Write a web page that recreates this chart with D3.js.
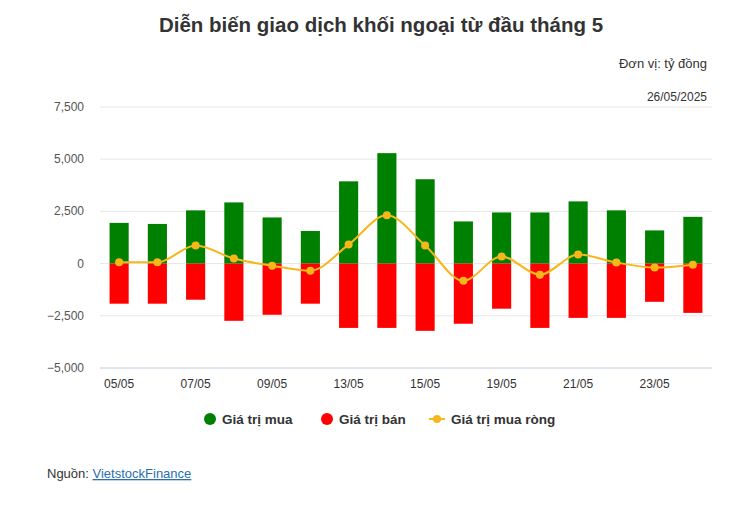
<!DOCTYPE html>
<html><head><meta charset="utf-8">
<script src="https://cdn.jsdelivr.net/npm/d3@7"></script>
<style>body{margin:0;background:#fff;font-family:"Liberation Sans",Arial,sans-serif}</style>
</head><body><svg id="c" width="741" height="508"></svg>
<script>
const dates = ['05/05','06/05','07/05','08/05','09/05','12/05','13/05','14/05','15/05','16/05','19/05','20/05','21/05','22/05','23/05','26/05'];
const buy = [1950,1900,2550,2930,2210,1560,3940,5290,4040,2020,2450,2450,2980,2550,1590,2240];
const sell = [-1920,-1920,-1730,-2740,-2450,-1920,-3080,-3080,-3220,-2880,-2160,-3080,-2600,-2600,-1830,-2360];
const net = [60,60,870,240,-100,-340,910,2310,870,-820,340,-530,430,50,-190,-50];
const yTicks = [-5000,-2500,0,2500,5000,7500];

const svg = d3.select('#c');
const x = d3.scaleBand().domain(dates).range([100,712]).paddingInner(0.5).paddingOuter(0.25);
const y = d3.scaleLinear().domain([-5000,7500]).range([368,107]);

svg.append('text').attr('x',381).attr('y',32).attr('text-anchor','middle')
  .attr('font-size',20.5).attr('font-weight','bold').attr('fill','#333')
  .text('Diễn biến giao dịch khối ngoại từ đầu tháng 5');
svg.append('text').attr('x',707).attr('y',68).attr('text-anchor','end').attr('font-size',13).attr('fill','#333').text('Đơn vị: tỷ đồng');
svg.append('text').attr('x',707).attr('y',101).attr('text-anchor','end').attr('font-size',12).attr('fill','#333').text('26/05/2025');

svg.append('g').selectAll('line').data(yTicks).join('line')
  .attr('x1',100).attr('x2',712).attr('y1',d=>y(d)).attr('y2',d=>y(d))
  .attr('stroke','#e6e6e6');
svg.append('g').selectAll('text').data(yTicks).join('text')
  .attr('x',84).attr('y',d=>y(d)+4).attr('text-anchor','end').attr('font-size',12).attr('fill','#555')
  .text(d=>d3.format(',')(d));

svg.append('g').selectAll('rect').data(buy).join('rect')
  .attr('x',(d,i)=>x(dates[i])).attr('width',x.bandwidth())
  .attr('y',d=>y(d)).attr('height',d=>y(0)-y(d)).attr('fill','#008000');
svg.append('g').selectAll('rect').data(sell).join('rect')
  .attr('x',(d,i)=>x(dates[i])).attr('width',x.bandwidth())
  .attr('y',y(0)).attr('height',d=>y(d)-y(0)).attr('fill','#ff0000');

const cx = i=>x(dates[i])+x.bandwidth()/2;
svg.append('path').datum(net)
  .attr('d',d3.line().x((d,i)=>cx(i)).y(d=>y(d)).curve(d3.curveMonotoneX))
  .attr('fill','none').attr('stroke','#f5b71a').attr('stroke-width',2);
svg.append('g').selectAll('circle').data(net).join('circle')
  .attr('cx',(d,i)=>cx(i)).attr('cy',d=>y(d)).attr('r',4).attr('fill','#f5b71a');

svg.append('line').attr('x1',100).attr('x2',712).attr('y1',368).attr('y2',368).attr('stroke','#ccd6eb');
svg.append('g').selectAll('text').data(dates.filter((d,i)=>i%2==0)).join('text')
  .attr('x',d=>x(d)+x.bandwidth()/2).attr('y',388).attr('text-anchor','middle')
  .attr('font-size',12).attr('fill','#333').text(d=>d);

const leg = [['Giá trị mua','#008000','dot'],['Giá trị bán','#ff0000','dot'],['Giá trị mua ròng','#f5b71a','line']];
const lx = [210,327,437];
leg.forEach((l,i)=>{
  const g = svg.append('g').attr('transform',`translate(${lx[i]},419)`);
  if (l[2]=='line') g.append('line').attr('x1',-8).attr('x2',8).attr('stroke',l[1]).attr('stroke-width',2);
  g.append('circle').attr('r',l[2]=='line'?4:6).attr('fill',l[1]);
  g.append('text').attr('x',l[2]=='line'?14:12).attr('y',5).attr('font-size',13.5).attr('font-weight','bold').attr('fill','#333').text(l[0]);
});

const src = svg.append('text').attr('x',47).attr('y',478).attr('font-size',13).attr('fill','#333');
src.append('tspan').text('Nguồn: ');
src.append('tspan').attr('fill','#2a6eb0').attr('text-decoration','underline').text('VietstockFinance');
</script></body></html>
